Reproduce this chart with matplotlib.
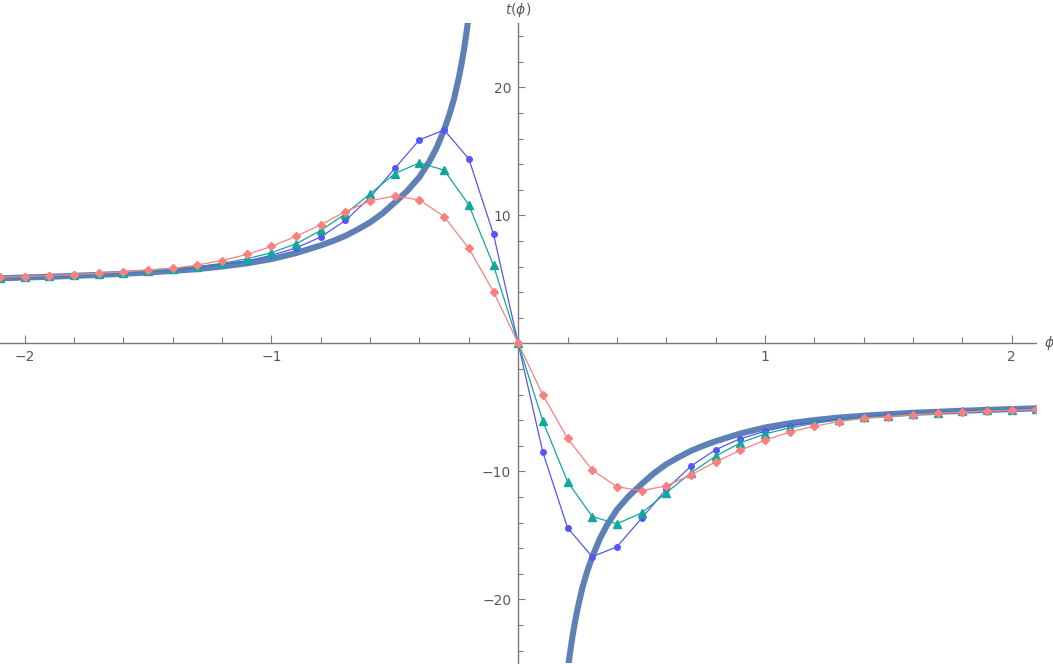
import numpy as np
import matplotlib
matplotlib.use("Agg")
import matplotlib.pyplot as plt
from matplotlib.ticker import MultipleLocator, FixedLocator

# ---- data ----
phi = [-2.1, -2.0, -1.9, -1.8, -1.7, -1.6, -1.5, -1.4, -1.3, -1.2, -1.1,
       -1.0, -0.9, -0.8, -0.7, -0.6, -0.5, -0.4, -0.3, -0.2, -0.1, 0.0,
       0.1, 0.2, 0.3, 0.4, 0.5, 0.6, 0.7, 0.8, 0.9, 1.0, 1.1,
       1.2, 1.3, 1.4, 1.5, 1.6, 1.7, 1.8, 1.9, 2.0, 2.1]

t_blue = [5.09, 5.15, 5.22, 5.30, 5.39, 5.50, 5.62, 5.74, 5.93, 6.19, 6.42,
          6.88, 7.45, 8.31, 9.60, 11.40, 13.67, 15.90, 16.67, 14.41, 8.52, 0.0,
          -8.52, -14.41, -16.67, -15.90, -13.67, -11.40, -9.60, -8.31, -7.45, -6.88, -6.42,
          -6.19, -5.93, -5.74, -5.62, -5.50, -5.39, -5.30, -5.22, -5.15, -5.09]

t_teal = [5.11, 5.17, 5.24, 5.32, 5.41, 5.52, 5.65, 5.78, 5.98, 6.25, 6.60,
          7.08, 7.78, 8.82, 10.12, 11.68, 13.26, 14.10, 13.53, 10.81, 6.08, 0.0,
          -6.08, -10.81, -13.53, -14.10, -13.26, -11.68, -10.12, -8.82, -7.78, -7.08, -6.60,
          -6.25, -5.98, -5.78, -5.65, -5.52, -5.41, -5.32, -5.24, -5.17, -5.11]

t_pink = [5.16, 5.22, 5.29, 5.37, 5.46, 5.58, 5.72, 5.85, 6.12, 6.47, 6.94,
          7.57, 8.36, 9.26, 10.29, 11.13, 11.52, 11.20, 9.90, 7.42, 4.03, 0.0,
          -4.03, -7.42, -9.90, -11.20, -11.52, -11.13, -10.29, -9.26, -8.36, -7.57, -6.94,
          -6.47, -6.12, -5.85, -5.72, -5.58, -5.46, -5.37, -5.29, -5.22, -5.16]

# thick curve, left branch (phi < 0) and right branch (phi > 0)
curve_phi_left = [-2.1, -2.0, -1.9, -1.8, -1.7, -1.6, -1.5, -1.4, -1.3, -1.2, -1.1,
                  -1.0, -0.9, -0.8, -0.75, -0.7, -0.65, -0.6, -0.55, -0.5, -0.45,
                  -0.4, -0.36, -0.33, -0.3, -0.28, -0.26, -0.24, -0.23, -0.22, -0.21, -0.2]
curve_t_left = [5.08, 5.14, 5.20, 5.27, 5.35, 5.43, 5.54, 5.66, 5.80, 6.00, 6.25,
                6.58, 7.05, 7.65, 8.00, 8.40, 8.90, 9.45, 10.15, 11.00, 11.90,
                13.00, 14.20, 15.30, 16.70, 17.80, 19.10, 20.80, 21.80, 22.90, 24.20, 25.60]
curve_phi_right = [0.2, 0.21, 0.22, 0.23, 0.24, 0.26, 0.28, 0.3, 0.33, 0.36, 0.4,
                   0.45, 0.5, 0.55, 0.6, 0.65, 0.7, 0.75, 0.8, 0.9, 1.0,
                   1.1, 1.2, 1.3, 1.4, 1.5, 1.6, 1.7, 1.8, 1.9, 2.0, 2.1]
curve_t_right = [-25.60, -24.20, -22.90, -21.80, -20.80, -19.10, -17.80, -16.70, -15.30, -14.20, -13.00,
                 -11.90, -11.00, -10.15, -9.45, -8.90, -8.40, -8.00, -7.65, -7.05, -6.58,
                 -6.25, -6.00, -5.80, -5.66, -5.54, -5.43, -5.35, -5.27, -5.20, -5.14, -5.08]

x_major = [-2, -1, 1, 2]
y_major = [-20, -10, 10, 20]

# ---- plotting ----
axis_grey = '#7a7a7a'
label_grey = '#5a5a5a'

fig = plt.figure(figsize=(10.53, 6.64), dpi=100)
ax = fig.add_axes([0.0, 0.001, 0.9842, 0.9639])

ax.plot(curve_phi_left, curve_t_left, color='#5e81b5', lw=4.4, solid_capstyle='butt', zorder=2)
ax.plot(curve_phi_right, curve_t_right, color='#5e81b5', lw=4.4, solid_capstyle='butt', zorder=2)

ax.plot(phi, t_blue, '-o', color='#5656f5', lw=0.9, ms=4, zorder=3)
ax.plot(phi, t_teal, '-^', color='#10a79c', lw=0.9, ms=5.5, zorder=4)
ax.plot(phi, t_pink, '-D', color='#fa8080', lw=0.9, ms=4.5, zorder=5)

ax.set_xlim(-2.1, 2.1)
ax.set_ylim(-25, 25)

for s in ['top', 'right']:
    ax.spines[s].set_visible(False)
ax.spines['left'].set_position(('data', 0))
ax.spines['bottom'].set_position(('data', 0))
for s in ['left', 'bottom']:
    ax.spines[s].set_color(axis_grey)
    ax.spines[s].set_linewidth(1.0)

ax.xaxis.set_major_locator(FixedLocator(x_major))
ax.xaxis.set_minor_locator(MultipleLocator(0.2))
ax.yaxis.set_major_locator(FixedLocator(y_major))
ax.yaxis.set_minor_locator(MultipleLocator(2))

ax.tick_params(axis='x', which='major', direction='in', length=6, width=0.8,
               color=axis_grey, labelcolor=label_grey, labelsize=10, pad=5)
ax.tick_params(axis='x', which='minor', direction='in', length=4, width=0.8, color=axis_grey)
ax.tick_params(axis='y', which='major', direction='in', length=5, width=0.8,
               color=axis_grey, labelcolor=label_grey, labelsize=10, pad=5)
ax.tick_params(axis='y', which='minor', direction='in', length=3.5, width=0.8, color=axis_grey)

ax.set_xticklabels(['\u22122', '\u22121', '1', '2'])
ax.set_yticklabels(['\u221220', '\u221210', '10', '20'])

# axis labels placed like Mathematica's AxesLabel
fig.text(518 / 1053, 1 - 10 / 664, r'$t(\phi)$', ha='center', va='center',
         fontsize=10, color=label_grey)
ax.text(2.13, 0, r'$\phi$', ha='left', va='center', fontsize=10, color=label_grey,
        clip_on=False)

fig.savefig('out.png', dpi=100)
